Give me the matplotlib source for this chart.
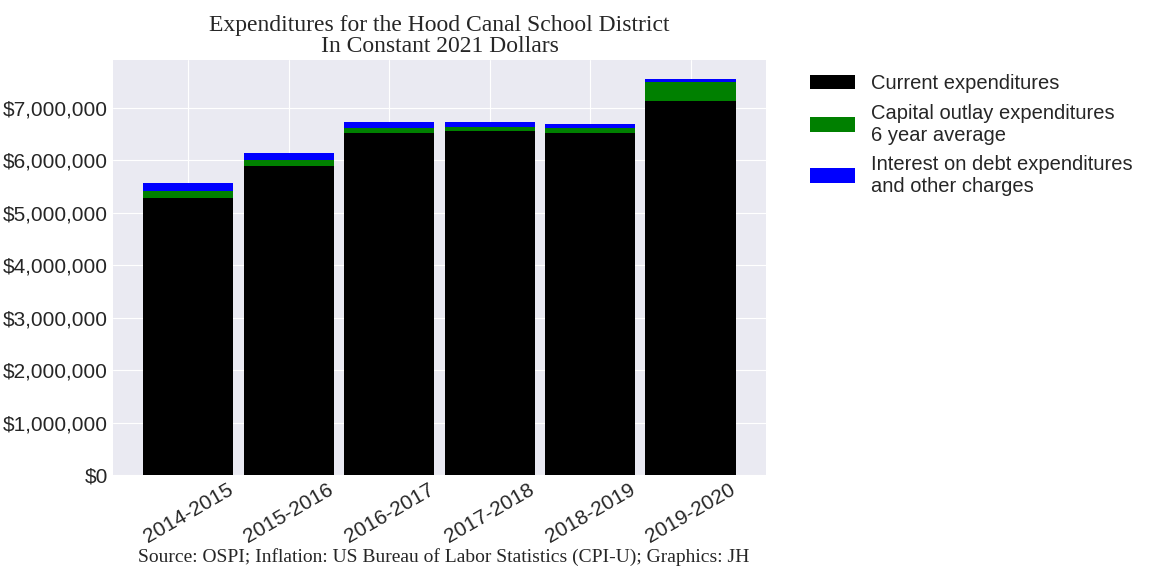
import matplotlib
matplotlib.use('Agg')
import matplotlib.pyplot as plt
from matplotlib.ticker import FuncFormatter

years = ['2014-2015', '2015-2016', '2016-2017', '2017-2018', '2018-2019', '2019-2020']
current = [5280000, 5890000, 6520000, 6560000, 6520000, 7130000]
capital = [130000, 110000, 100000, 80000, 100000, 360000]
interest = [150000, 140000, 110000, 90000, 70000, 60000]

plt.style.use('seaborn-v0_8-darkgrid')
plt.rcParams['font.family'] = ['Liberation Sans', 'DejaVu Sans']

fig, ax = plt.subplots(figsize=(11.52, 5.76), dpi=100)
x = range(len(years))
bottom2 = [c + k for c, k in zip(current, capital)]
ax.bar(x, current, width=0.9, color='black', label='Current expenditures')
ax.bar(x, capital, width=0.9, bottom=current, color='green',
       label='Capital outlay expenditures\n6 year average')
ax.bar(x, interest, width=0.9, bottom=bottom2, color='blue',
       label='Interest on debt expenditures\nand other charges')

ax.set_xticks(list(x))
ax.set_xticklabels(years, rotation=30, fontsize=15)
ax.tick_params(axis='y', labelsize=15)
ax.yaxis.set_major_formatter(FuncFormatter(lambda v, p: f'${v:,.0f}'))
ax.set_yticks(range(0, 8000000, 1000000))
ax.set_ylim(0, 7900000)
ax.set_xlim(-0.75, 5.75)

ax.set_title('Expenditures for the Hood Canal School District\nIn Constant 2021 Dollars',
             fontsize=17, family='Liberation Serif', linespacing=1.0)
ax.legend(loc='upper left', bbox_to_anchor=(1.04, 1.01), fontsize=14.5,
          frameon=False, handlelength=2.2)
fig.text(0.385, 0.025, 'Source: OSPI; Inflation: US Bureau of Labor Statistics (CPI-U); Graphics: JH',
         ha='center', fontsize=14, family='Liberation Serif')

fig.subplots_adjust(left=0.098, right=0.665, top=0.895, bottom=0.175)
fig.savefig('out.png', dpi=100)
